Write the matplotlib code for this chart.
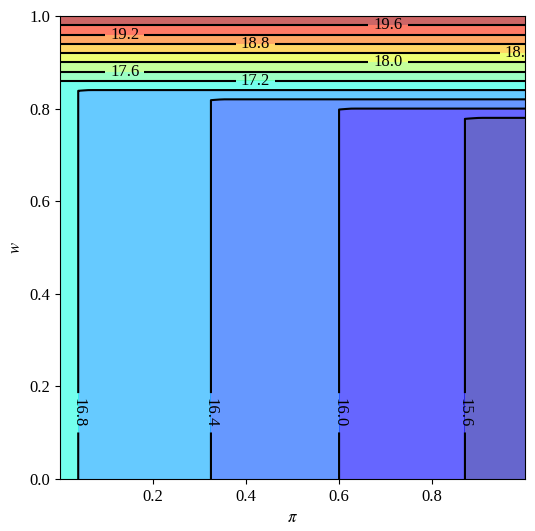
import numpy as np
import matplotlib
matplotlib.use("Agg")
import matplotlib.pyplot as plt

plt.rcParams['font.family'] = ['Liberation Serif', 'DejaVu Serif']
plt.rcParams['mathtext.fontset'] = 'stix'
plt.rcParams['font.size'] = 12

# where the vertical contours cross the lower part of the plot
pi_knots = [0.001, 0.04, 0.325, 0.60, 0.87, 0.999]
pi_values = [16.86, 16.8, 16.4, 16.0, 15.6, 15.42]

# where the horizontal contours sit in the upper band
w_knots = [0.0, 0.78, 0.80, 0.82, 0.84, 0.86, 0.88, 0.90, 0.92, 0.94, 0.96, 0.98, 1.0]
w_values = [0.0, 15.6, 16.0, 16.4, 16.8, 17.2, 17.6, 18.0, 18.4, 18.8, 19.2, 19.6, 20.0]

levels = [15.2, 15.6, 16.0, 16.4, 16.8, 17.2, 17.6, 18.0, 18.4, 18.8, 19.2, 19.6, 20.0]

# rough spots where the contour labels sit
label_spots = [(0.705, 0.98), (0.14, 0.96), (0.42, 0.94), (0.987, 0.92),
               (0.705, 0.90), (0.14, 0.88), (0.42, 0.86),
               (0.04, 0.143), (0.325, 0.143), (0.60, 0.143), (0.87, 0.143)]


def build_field(n=100):
    pi = np.linspace(0.001, 0.999, n)
    w = np.linspace(0.0, 1.0, n)
    f_pi = np.interp(pi, pi_knots, pi_values)
    g_w = np.interp(w, w_knots, w_values)
    Z = np.maximum(f_pi[None, :], g_w[:, None])
    return pi, w, Z


def main():
    pi, w, Z = build_field()

    fig = plt.figure(figsize=(5.35, 5.31), dpi=100)
    ax = fig.add_axes([60 / 535, 52 / 531, 465 / 535, 463 / 531])

    ax.contourf(pi, w, Z, levels=levels, cmap='jet', alpha=0.6)
    cs = ax.contour(pi, w, Z, levels=levels, colors='black', linewidths=1.5)
    ax.clabel(cs, inline=True, fontsize=12, fmt='%.1f', manual=label_spots)

    ax.set_xlabel(r'$\pi$')
    ax.set_ylabel(r'$w$')
    ax.set_yticks([0.0, 0.2, 0.4, 0.6, 0.8, 1.0])

    fig.savefig('out.png', dpi=100)


if __name__ == "__main__":
    main()
